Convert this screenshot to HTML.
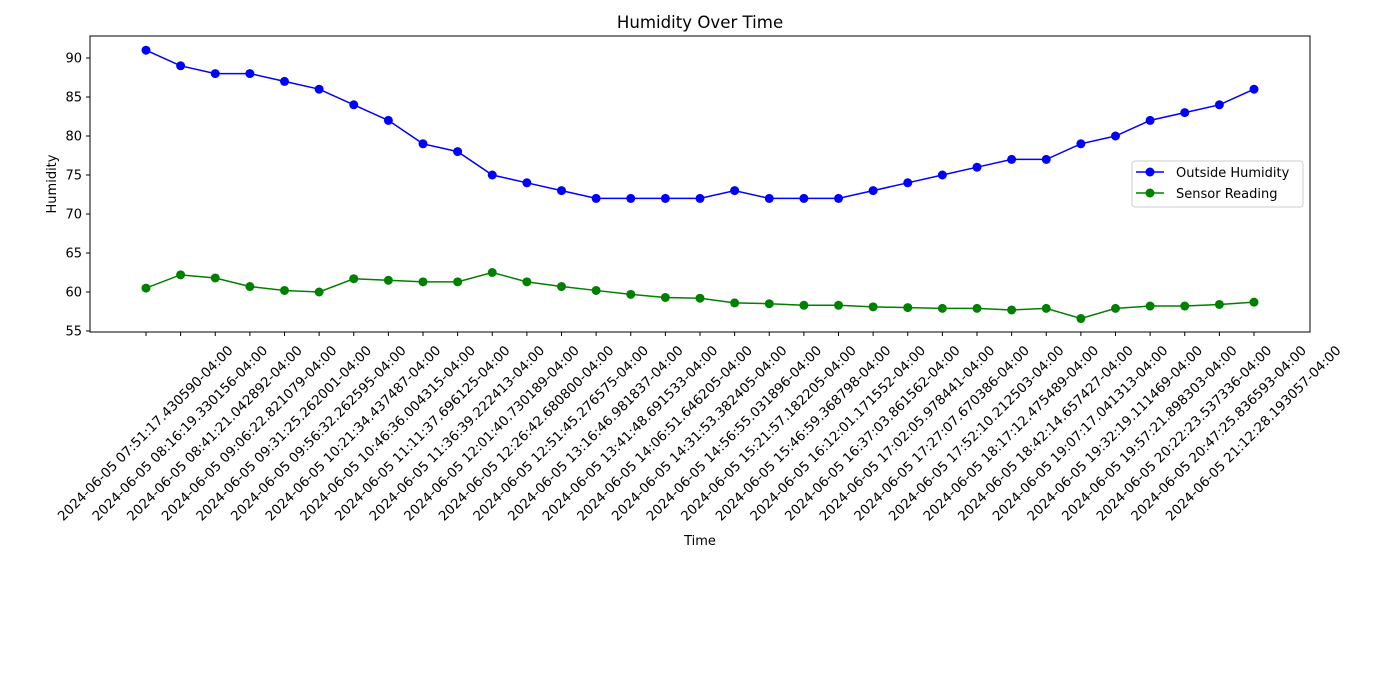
<!DOCTYPE html>
<html><head><meta charset="utf-8"><style>
body{margin:0;background:#fff}
svg{display:block;font-family:"DejaVu Sans","Liberation Sans",sans-serif}
</style></head><body>
<svg id="c" width="1400" height="700">
<rect width="1400" height="700" fill="#fff"/>
<text x="700" y="28" font-size="16.6" text-anchor="middle">Humidity Over Time</text>
<g id="yax"></g><g id="xax"></g><g id="series"></g>
<rect x="90" y="36" width="1220" height="296" fill="none" stroke="#000" stroke-width="1"/>
<text x="700" y="545" font-size="13" text-anchor="middle">Time</text>
<text transform="translate(56,184) rotate(-90)" font-size="13" text-anchor="middle">Humidity</text>
<g>
<rect x="1132" y="161" width="171" height="46" rx="3" fill="#fff" stroke="#ccc"/>
<g>
<line x1="1136" y1="172" x2="1164" y2="172" stroke="blue" stroke-width="1.5"/><circle cx="1150" cy="172" r="4.5" fill="blue"/>
<text x="1176" y="177" font-size="13">Outside Humidity</text></g>
<g>
<line x1="1136" y1="193" x2="1164" y2="193" stroke="green" stroke-width="1.5"/><circle cx="1150" cy="193" r="4.5" fill="green"/>
<text x="1176" y="198" font-size="13">Sensor Reading</text></g>
</g>
</svg>
<script>
const times=["07:51:17.430590","08:16:19.330156","08:41:21.042892","09:06:22.821079","09:31:25.262001","09:56:32.262595","10:21:34.437487","10:46:36.004315","11:11:37.696125","11:36:39.222413","12:01:40.730189","12:26:42.680800","12:51:45.276575","13:16:46.981837","13:41:48.691533","14:06:51.646205","14:31:53.382405","14:56:55.031896","15:21:57.182205","15:46:59.368798","16:12:01.171552","16:37:03.861562","17:02:05.978441","17:27:07.670386","17:52:10.212503","18:17:12.475489","18:42:14.657427","19:07:17.041313","19:32:19.111469","19:57:21.898303","20:22:23.537336","20:47:25.836593","21:12:28.193057"];
const outside=[91,89,88,88,87,86,84,82,79,78,75,74,73,72,72,72,72,73,72,72,72,73,74,75,76,77,77,79,80,82,83,84,86];
const sensor=[60.5,62.2,61.8,60.7,60.2,60.0,61.7,61.5,61.3,61.3,62.5,61.3,60.7,60.2,59.7,59.3,59.2,58.6,58.5,58.3,58.3,58.1,58.0,57.9,57.9,57.7,57.9,56.6,57.9,58.2,58.2,58.4,58.7];
const yTicks=[55,60,65,70,75,80,85,90];
const NS="http://www.w3.org/2000/svg";
const xs=i=>146+i*(1254-146)/(times.length-1);
const ys=v=>58+(90-v)*(331-58)/35;
function mk(t,a,p){const e=document.createElementNS(NS,t);for(const k in a)e.setAttribute(k,a[k]);p.appendChild(e);return e;}
const yax=document.getElementById('yax');
yTicks.forEach(v=>{
 const g=mk('g',{},yax);
 
 
 mk('line',{x1:86,x2:90,y1:ys(v),y2:ys(v),stroke:'#000'},g);
 const t=mk('text',{x:82,y:ys(v)+4.5,'font-size':13,'text-anchor':'end'},g);t.textContent=v;
});
const xax=document.getElementById('xax');
times.forEach((tm,i)=>{
 const g=mk('g',{},xax);
 
 
 const x=xs(i);
 mk('line',{x1:x,x2:x,y1:332,y2:336,stroke:'#000'},g);
 const t=mk('text',{x:0,y:0,'font-size':13.4,'text-anchor':'middle','dominant-baseline':'central',transform:`translate(${x},434) rotate(-45)`},g);
 t.textContent='2024-06-05 '+tm+'-04:00';
});
const ser=document.getElementById('series');
[[outside,'blue','outside-humidity-line'],[sensor,'green','sensor-reading-line']].forEach(([d,c,n])=>{
 const g=mk('g',{},ser);
 
 
 mk('polyline',{points:d.map((v,i)=>xs(i)+','+ys(v)).join(' '),fill:'none',stroke:c,'stroke-width':1.5},g);
 d.forEach((v,i)=>{const p=mk('circle',{cx:xs(i),cy:ys(v),r:4.5,fill:c},g);
  
  });
});
</script>
</body></html>
